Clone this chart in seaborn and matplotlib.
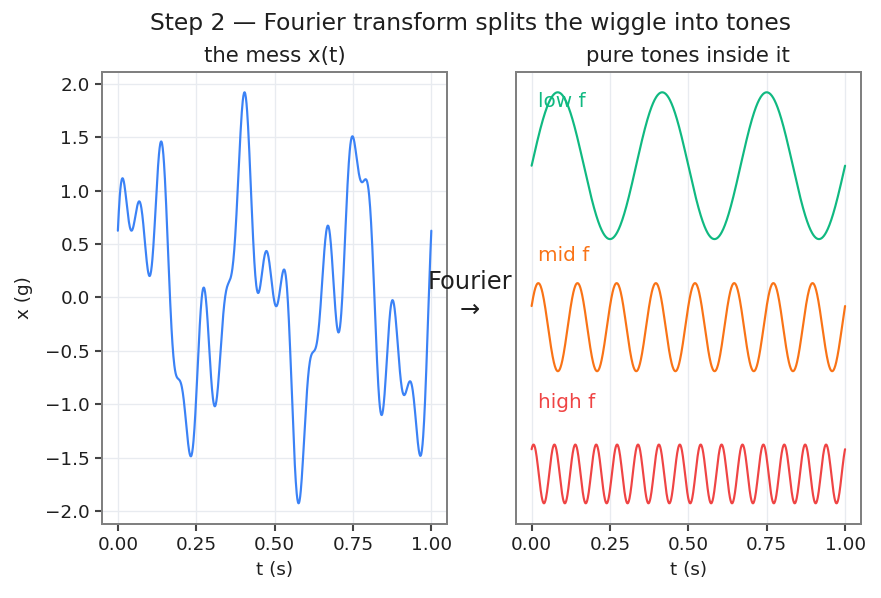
import numpy as np
import pandas as pd
import matplotlib
matplotlib.use("Agg")
import matplotlib.pyplot as plt
import seaborn as sns

# --- 1. DATA ---
# NOTE: the chart shows pure sine tones and their sum, so the lines are built
# from the tone parameters below (frequency, amplitude, phase estimated from
# the picture) with np.sin, rather than from point-by-point readings.
TONE_NAMES = ["low f", "mid f", "high f"]
TONE_FREQ_HZ = [3, 8, 15]
TONE_AMP = [1.0, 0.6, 0.4]
TONE_PHASE = [0.0, 0.5, 1.0]
TONE_OFFSET = [0.0, -2.2, -4.2]

T_START, T_END, N_SAMPLES = 0.0, 1.0, 1000
X_TICKS = [0.0, 0.25, 0.5, 0.75, 1.0]
Y_TICKS = [-2.0, -1.5, -1.0, -0.5, 0.0, 0.5, 1.0, 1.5, 2.0]

TITLE = "Step 2 \u2014 Fourier transform splits the wiggle into tones"
LEFT_TITLE = "the mess x(t)"
RIGHT_TITLE = "pure tones inside it"

# --- 2. STYLE ---
MESS_COLOR = "#3b82f6"
TONE_COLORS = ["#10b981", "#f97316", "#ef4444"]
LABEL_RISE = [0.88, 0.97, 0.98]
INK = "#1f1f1f"

sns.set_theme(style="ticks", context="notebook", rc={
    "axes.edgecolor": "#808080",
    "axes.linewidth": 1.2,
    "axes.grid": True,
    "grid.color": "#e8ebf0",
    "grid.linewidth": 0.8,
    "xtick.major.size": 4,
    "ytick.major.size": 4,
    "xtick.color": "#444444",
    "ytick.color": "#444444",
    "xtick.labelcolor": INK,
    "ytick.labelcolor": INK,
    "text.color": INK,
    "axes.labelcolor": INK,
    "xtick.labelsize": 11,
    "ytick.labelsize": 11,
    "axes.labelsize": 11,
    "axes.titlesize": 12.75,
})
plt.rcParams["font.family"] = ["DejaVu Sans"]

# --- 3. BUILD SERIES ---
t = np.linspace(T_START, T_END, N_SAMPLES)
rows = []
for name, f, a, p in zip(TONE_NAMES, TONE_FREQ_HZ, TONE_AMP, TONE_PHASE):
    rows.append(pd.DataFrame({"t": t, "tone": name, "x": a * np.sin(2 * np.pi * f * t + p)}))
tones = pd.concat(rows, ignore_index=True)
mess = tones.groupby("t", as_index=False)["x"].sum()

# --- 4. PLOT ---
fig, (ax1, ax2) = plt.subplots(1, 2, figsize=(881 / 120, 598 / 120), dpi=120)
fig.subplots_adjust(left=0.116, right=0.977, bottom=0.124, top=0.880, wspace=0.2)

sns.lineplot(data=mess, x="t", y="x", ax=ax1, color=MESS_COLOR, linewidth=1.3)
ax1.set_xticks(X_TICKS)
ax1.set_yticks(Y_TICKS)
ax1.set_xlabel("t (s)")
ax1.set_ylabel("x (g)", labelpad=7)
ax1.set_title(LEFT_TITLE)

for name, off, c, rise in zip(TONE_NAMES, TONE_OFFSET, TONE_COLORS, LABEL_RISE):
    sub = tones[tones["tone"] == name]
    sns.lineplot(x=sub["t"], y=sub["x"] + off, ax=ax2, color=c, linewidth=1.3)
    ax2.text(0.02, off + rise, name, color=c, fontsize=12, va="center", ha="left")
ax2.set_xticks(X_TICKS)
ax2.set_yticks([])
ax2.set_xlabel("t (s)")
ax2.set_ylabel("")
ax2.set_title(RIGHT_TITLE)

for ax in (ax1, ax2):
    for s in ax.spines.values():
        s.set_visible(True)

fig.suptitle(TITLE, fontsize=14, x=0.5335, y=0.9615, va="center")
fig.text(0.5335, 0.505, "Fourier\n\u2192", ha="center", va="center", fontsize=14.5)

plt.savefig("out.png", dpi=120)
